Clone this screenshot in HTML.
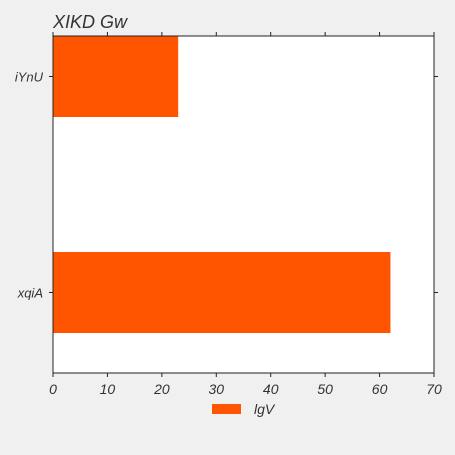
<!DOCTYPE html>
<html><head><meta charset="utf-8"><style>
html,body{margin:0;padding:0;background:#f0f0f0;}
svg{display:block;font-family:"Liberation Sans",sans-serif;font-style:italic;fill:#333;}
</style></head><body>
<svg id="chart" width="455" height="455">
<rect x="53" y="36" width="381" height="337" fill="#fff"/>
<text x="53" y="28" font-size="18" fill="#333">XIKD Gw</text>
<g id="bars"></g>
<g id="axes"></g>
<rect x="53" y="36" width="381" height="337" fill="none" stroke="#222" stroke-width="1"/>
<g>
<rect x="212" y="404" width="29" height="10" fill="#ff5500"/>
<text x="254" y="414" font-size="14" fill="#333">lgV</text>
</g>
</svg>
<script>
const categories = ["iYnU", "xqiA"];
const values = [23, 62];
const xTicks = [0, 10, 20, 30, 40, 50, 60, 70];
const NS = "http://www.w3.org/2000/svg";
const x = v => 53 + (v - 0) / 70 * 381;
const y = i => 76.5 + i * 216;
const bandH = 81;
const bars = document.getElementById("bars");
const axes = document.getElementById("axes");
function mk(tag, attrs, parent) {
  const e = document.createElementNS(NS, tag);
  for (const k in attrs) e.setAttribute(k, attrs[k]);
  parent.appendChild(e);
  return e;
}
categories.forEach((c, i) => {
  const r = mk("rect", {x: x(0), y: y(i) - bandH / 2, width: x(values[i]) - x(0), height: bandH, fill: "#ff5500"}, bars);
  
  
  const tl = mk("line", {x1: 49, x2: 53, y1: y(i), y2: y(i), stroke: "#222"}, axes);
  
  
  const tr = mk("line", {x1: 434, x2: 438, y1: y(i), y2: y(i), stroke: "#222"}, axes);
  
  
  const t = mk("text", {x: 43, y: y(i) + 5, "text-anchor": "end", "font-size": 13}, axes);
  t.textContent = c;
  
  
});
xTicks.forEach(v => {
  const b = mk("line", {x1: x(v), x2: x(v), y1: 373, y2: 377, stroke: "#222"}, axes);
  
  
  const tp = mk("line", {x1: x(v), x2: x(v), y1: 32, y2: 36, stroke: "#222"}, axes);
  
  
  const t = mk("text", {x: x(v), y: 394, "text-anchor": "middle", "font-size": 14}, axes);
  t.textContent = v;
  
  
});
</script>
</body></html>
